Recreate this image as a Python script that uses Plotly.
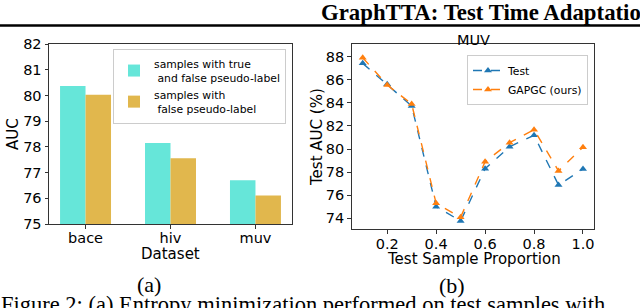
import plotly.graph_objects as go

# ---- data ----
datasets = ["bace", "hiv", "muv"]
auc_true_false = [80.37, 78.15, 76.70]
auc_false = [80.03, 77.56, 76.11]

proportions = [0.1, 0.2, 0.3, 0.4, 0.5, 0.6, 0.7, 0.8, 0.9, 1.0]
test_auc = [87.42, 85.60, 83.73, 75.01, 73.77, 78.30, 80.20, 81.19, 76.89, 78.27]
gapgc_auc = [87.91, 85.55, 83.90, 75.30, 74.09, 78.90, 80.55, 81.68, 78.10, 80.15]

W, H = 640, 308
def px(x): return x / W
def py(y): return 1 - y / H

SANS = "DejaVu Sans"
SERIF = "Liberation Serif"

fig = go.Figure()

fig.add_trace(go.Bar(x=datasets, y=auc_true_false, name="samples with true<br> and false pseudo-label",
                     marker=dict(color="#66E6D9", line=dict(width=0)), xaxis="x", yaxis="y", legend="legend"))
fig.add_trace(go.Bar(x=datasets, y=auc_false, name="samples with<br> false pseudo-label",
                     marker=dict(color="#E1B74D", line=dict(width=0)), xaxis="x", yaxis="y", legend="legend"))

fig.add_trace(go.Scatter(x=proportions, y=test_auc, name="Test", mode="lines+markers",
                         line=dict(color="#1f77b4", dash="dash", width=1.4),
                         marker=dict(symbol="triangle-up", size=7, color="#1f77b4"),
                         xaxis="x2", yaxis="y2", legend="legend2"))
fig.add_trace(go.Scatter(x=proportions, y=gapgc_auc, name="GAPGC (ours)", mode="lines+markers",
                         line=dict(color="#ff7f0e", dash="dash", width=1.4),
                         marker=dict(symbol="triangle-up", size=7, color="#ff7f0e"),
                         xaxis="x2", yaxis="y2", legend="legend2"))

axis_common = dict(showline=True, mirror=True, linecolor="#333333", linewidth=1, automargin=False,
                   ticks="outside", ticklen=3.5, tickcolor="#333333", showgrid=False,
                   zeroline=False, tickfont=dict(family=SANS, size=14.5, color="black"))

fig.update_layout(
    width=W, height=H, margin=dict(l=0, r=0, t=0, b=0, autoexpand=False),
    paper_bgcolor="white", plot_bgcolor="white",
    barmode="group", bargap=0.4, bargroupgap=0,
    showlegend=True,
    xaxis=dict(domain=[px(49), px(292)], range=[-0.43, 2.43], anchor="y", ticklabelstandoff=-3, **axis_common),
    yaxis=dict(domain=[py(224), py(44)], range=[75, 82], dtick=1, anchor="x", **axis_common),
    xaxis2=dict(domain=[px(351.7), px(594)], range=[0.055, 1.045], tickvals=[0.2, 0.4, 0.6, 0.8, 1.0],
                ticktext=["0.2", "0.4", "0.6", "0.8", "1.0"], anchor="y2", ticklabelstandoff=-2, **axis_common),
    yaxis2=dict(domain=[py(229.3), py(44.3)], range=[73.05, 89.07], dtick=2, anchor="x2", **axis_common),
    legend=dict(x=px(286), y=py(49), xanchor="right", yanchor="top",
                bordercolor="#cccccc", borderwidth=1, bgcolor="rgba(255,255,255,0.8)",
                font=dict(family=SANS, size=10.8, color="black"), tracegroupgap=0,
                itemwidth=30),
    legend2=dict(x=px(588), y=py(55), xanchor="right", yanchor="top",
                 bordercolor="#cccccc", borderwidth=1, bgcolor="rgba(255,255,255,0.8)",
                 font=dict(family=SANS, size=10.8, color="black"), tracegroupgap=0,
                 itemwidth=30),
)

ann = []
def A(text, x, y, size, family=SANS, angle=0, bold=False, xanchor="center"):
    ann.append(dict(text=("<b>%s</b>" % text) if bold else text, x=px(x), y=py(y),
                    xref="paper", yref="paper", showarrow=False, xanchor=xanchor, yanchor="middle",
                    textangle=angle, font=dict(family=family, size=size, color="black")))

A("AUC", 13, 134, 15, angle=-90)
A("Dataset", 170.5, 254, 15)
A("Test AUC (%)", 317, 137, 15, angle=-90)
A("Test Sample Proportion", 474, 259, 15)
A("MUV", 473, 40, 14.5)
A("(a)", 149, 284, 22, family=SERIF)
A("(b)", 452, 285, 22, family=SERIF)
A("Figure 2: (a) Entropy minimization performed on test samples with", -1, 304, 22.5, family=SERIF, xanchor="left")
A("GraphTTA: Test Time Adaptation", 319, 12, 22.8, family=SERIF, bold=True, xanchor="left")
fig.update_layout(annotations=ann)

# horizontal rule under the running header
fig.add_shape(type="line", xref="paper", yref="paper", x0=0, x1=1, y0=py(25.5), y1=py(25.5),
              line=dict(color="black", width=2.5), layer="above")

fig.write_html("out.html", config={"displayModeBar": False},
               post_script="document.body.style.margin='0px';")
